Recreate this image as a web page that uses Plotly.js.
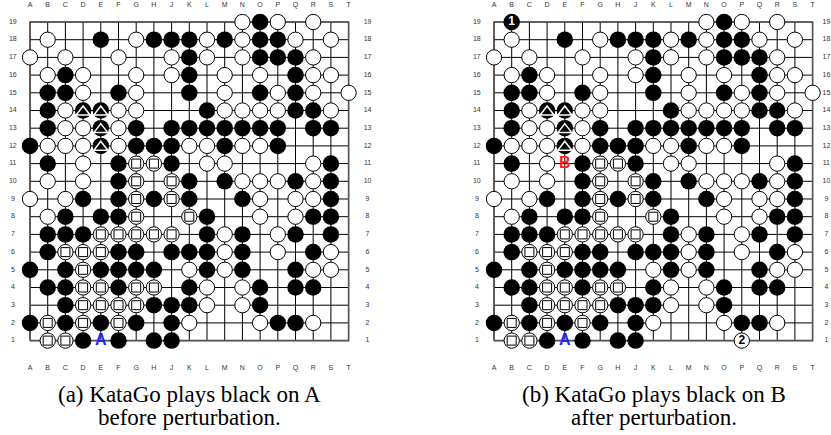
<!DOCTYPE html>
<html><head><meta charset="utf-8">
<script src="https://cdn.plot.ly/plotly-3.0.1.min.js"></script>
<style>html,body{margin:0;padding:0;background:#fff}#chart{width:831px;height:435px}</style>
</head><body><div id="chart"></div>
<script>
// ---------- data ----------
const columns = ['A','B','C','D','E','F','G','H','J','K','L','M','N','O','P','Q','R','S','T'];
const rowNumbers = [19,18,17,16,15,14,13,12,11,10,9,8,7,6,5,4,3,2,1];
// X = black, O = white, T = black with triangle, S = white with square, . = empty
const boardA = [
  '............OXO.O..',
  '.O..X.OXXXOXOXXO.O.',
  'O.O..O..OXO.OXXXO..',
  '.OXO..O.OX.O.O.XOO.',
  '.XXO.XO..X.O.XOXO.O',
  '.XOTTOO...XOOOOXXO.',
  '.XOOTOX.XXXXXXX.XX.',
  'XOOOTOXXXOOXOOX....',
  '.X.O.XSSX.OO....OX.',
  '.O.O.XS.SX.XOOOXOX.',
  'O.OX.XSXSX..XO.OOX.',
  '.OX.XXS..SX..O.OXX.',
  '.XXXSSSSS.XOX.OX.X.',
  '.XSSSXX.XXXOX.O.XO.',
  'X.XSXXXX.OXOX..XOO.',
  '.XXSSXSS.XO.OX.XX..',
  '..XSSSSXXXO.OX.....',
  'XSXSXSX.XO...OXXO..',
  '.SSX.X.XX..........'
];
const boardB = [
  '.X..........OXO.O..',
  '.O..X.OXXXOXOXXO.O.',
  'O.O..O..OXO.OXXXO..',
  '.OXO..O.OX.O.O.XOO.',
  '.XXO.XO..X.O.XOXO.O',
  '.XOTTOO...XOOOOXXO.',
  '.XOOTOX.XXXXXXX.XX.',
  'XOOOTOXXXOOXOOX....',
  '.X.O.XSSX.OO....OX.',
  '.O.O.XS.SX.XOOOXOX.',
  'O.OX.XSXSX..XO.OOX.',
  '.OX.XXS..SX..O.OXX.',
  '.XXXSSSSS.XOX.OX.X.',
  '.XSSSXX.XXXOX.O.XO.',
  'X.XSXXXX.OXOX..XOO.',
  '.XXSSXSS.XO.OX.XX..',
  '..XSSSSXXXO.OX.....',
  'XSXSXSX.XO...OXXO..',
  '.SSX.X.XX.....O....'
];
const pointLabelsA = ['A'];
const pointColsA = ['E'];
const pointRowsA = [1];
const pointLabelsB = ['A','B'];
const pointColsB = ['E','E'];
const pointRowsB = [1,11];
const moveNumbersB = ['1','2'];
const moveColsB = ['B','P'];
const moveRowsB = [19,1];
const captionA = ['(a) KataGo plays black on A','before perturbation.'];
const captionB = ['(b) KataGo plays black on B','after perturbation.'];

// ---------- helpers ----------
const colIndex = c => columns.indexOf(c) + 1;
function parseBoard(board){
  const out = {X:{x:[],y:[]}, O:{x:[],y:[]}, T:{x:[],y:[]}, S:{x:[],y:[]}};
  board.forEach((line,i)=>{
    for(let j=0;j<line.length;j++){
      const ch=line[j]; if(ch==='.') continue;
      out[ch].x.push(j+1); out[ch].y.push(rowNumbers[i]);
    }
  });
  return out;
}
const N = columns.length;
const labelColors = {A:'#1f1fff', B:'#ff1f1f'};
const traces = [];
const annotations = [];

function addBoard(board, xa, ya, labels, lcols, lrows, nums, ncols, nrows, rightLabelOffset){
  // grid
  const gx=[], gy=[];
  for(let i=1;i<=N;i++){ gx.push(i,i,null); gy.push(1,N,null); gx.push(1,N,null); gy.push(i,i,null); }
  traces.push({type:'scatter',mode:'lines',x:gx,y:gy,xaxis:xa,yaxis:ya,line:{color:'#000',width:1},hoverinfo:'skip',connectgaps:false});
  traces.push({type:'scatter',mode:'lines',x:[1,N,N,1,1],y:[1,1,N,N,1],xaxis:xa,yaxis:ya,line:{color:'#555',width:1.6},hoverinfo:'skip'});
  const p = parseBoard(board);
  const blackAll = {x:p.X.x.concat(p.T.x), y:p.X.y.concat(p.T.y)};
  const whiteAll = {x:p.O.x.concat(p.S.x), y:p.O.y.concat(p.S.y)};
  traces.push({type:'scatter',mode:'markers',x:blackAll.x,y:blackAll.y,xaxis:xa,yaxis:ya,cliponaxis:false,
    marker:{symbol:'circle',size:16.5,color:'#000',line:{width:0}},hoverinfo:'skip'});
  traces.push({type:'scatter',mode:'markers',x:whiteAll.x,y:whiteAll.y,xaxis:xa,yaxis:ya,cliponaxis:false,
    marker:{symbol:'circle',size:15.3,color:'#fff',line:{color:'#000',width:1}},hoverinfo:'skip'});
  traces.push({type:'scatter',mode:'markers',x:p.T.x,y:p.T.y.map(v=>v-0.08),xaxis:xa,yaxis:ya,cliponaxis:false,
    marker:{symbol:'triangle-up',size:12,color:'#000',line:{color:'#fff',width:1.5}},hoverinfo:'skip'});
  traces.push({type:'scatter',mode:'markers',x:p.S.x,y:p.S.y,xaxis:xa,yaxis:ya,cliponaxis:false,
    marker:{symbol:'square',size:9,color:'#fff',line:{color:'#000',width:1}},hoverinfo:'skip'});
  // point labels
  labels.forEach((t,i)=>{
    traces.push({type:'scatter',mode:'text',x:[colIndex(lcols[i])],y:[lrows[i]],text:['<b>'+t+'</b>'],xaxis:xa,yaxis:ya,cliponaxis:false,
      textposition:'middle center',textfont:{family:'Liberation Sans, Arial, sans-serif',size:16,color:labelColors[t]},hoverinfo:'skip'});
  });
  // move numbers
  nums.forEach((t,i)=>{
    const cx=colIndex(ncols[i]), cy=nrows[i];
    const onBlack = blackAll.x.some((v,k)=>v===cx && blackAll.y[k]===cy);
    traces.push({type:'scatter',mode:'text',x:[cx],y:[cy],text:['<b>'+t+'</b>'],xaxis:xa,yaxis:ya,cliponaxis:false,
      textposition:'middle center',textfont:{family:'Liberation Sans, Arial, sans-serif',size:12,color:onBlack?'#fff':'#000'},hoverinfo:'skip'});
  });
  // coordinate labels
  const cf = {family:'Liberation Sans, Arial, sans-serif',size:7,color:'#333'};
  const xs = columns.map((c,i)=>i+1);
  traces.push({type:'scatter',mode:'text',x:xs,y:xs.map(()=>N+0.97),text:columns,xaxis:xa,yaxis:ya,cliponaxis:false,textposition:'middle center',textfont:cf,hoverinfo:'skip'});
  traces.push({type:'scatter',mode:'text',x:xs,y:xs.map(()=>1-1.55),text:columns,xaxis:xa,yaxis:ya,cliponaxis:false,textposition:'middle center',textfont:cf,hoverinfo:'skip'});
  traces.push({type:'scatter',mode:'text',x:rowNumbers.map(()=>1-0.97),y:rowNumbers,text:rowNumbers.map(String),xaxis:xa,yaxis:ya,cliponaxis:false,textposition:'middle center',textfont:cf,hoverinfo:'skip'});
  traces.push({type:'scatter',mode:'text',x:rowNumbers.map(()=>N+rightLabelOffset),y:rowNumbers,text:rowNumbers.map(String),xaxis:xa,yaxis:ya,cliponaxis:false,textposition:'middle center',textfont:cf,hoverinfo:'skip'});
}

addBoard(boardA,'x','y',pointLabelsA,pointColsA,pointRowsA,[],[],[],1.07);
addBoard(boardB,'x2','y2',pointLabelsB,pointColsB,pointRowsB,moveNumbersB,moveColsB,moveRowsB,0.78);

const capFont = {family:'Liberation Serif, Times New Roman, serif',size:23,color:'#000'};
[[captionA,189],[captionB,653.5]].forEach(([cap,cx])=>{
  cap.forEach((line,i)=>{
    annotations.push({xref:'paper',yref:'paper',x:cx/831,y:1-(394+i*23)/435,xanchor:'center',yanchor:'middle',
      text:line,showarrow:false,font:capFont});
  });
});

const yr = [-4.333, 20.243];
const layout = {
  width:831,height:435,margin:{l:0,r:0,t:0,b:0},
  paper_bgcolor:'#fff',plot_bgcolor:'#fff',showlegend:false,
  xaxis:{domain:[0,0.5],range:[-0.695,22.78],visible:false,fixedrange:true},
  yaxis:{domain:[0,1],range:yr,visible:false,fixedrange:true},
  xaxis2:{domain:[0.5,1],range:[-3.435,20.04],visible:false,anchor:'y2',fixedrange:true},
  yaxis2:{domain:[0,1],range:yr,visible:false,anchor:'x2',fixedrange:true},
  annotations:annotations
};
Plotly.newPlot('chart',traces,layout,{staticPlot:true,displayModeBar:false});
</script></body></html>
